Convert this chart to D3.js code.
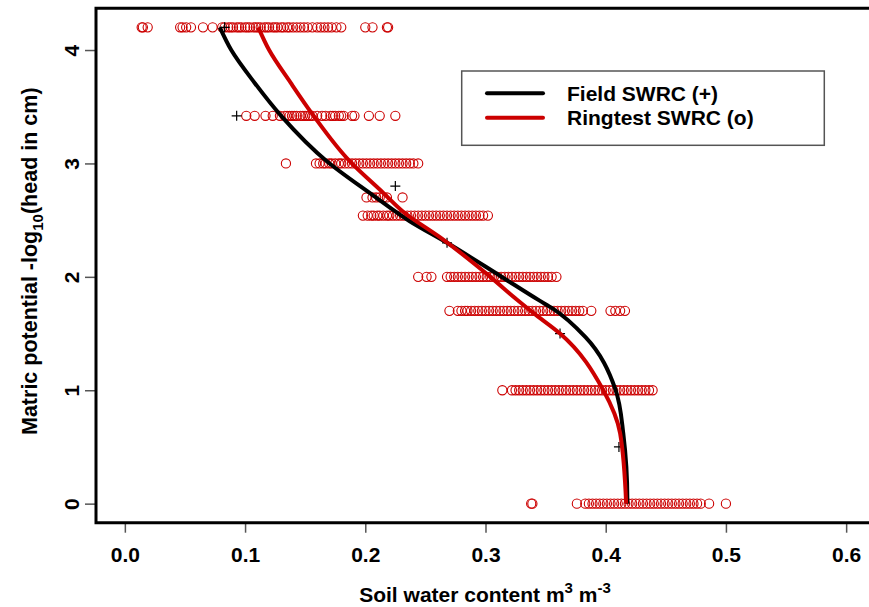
<!DOCTYPE html>
<html>
<head>
<meta charset="utf-8">
<script src="https://cdn.jsdelivr.net/npm/d3@7"></script>
<style>
  body { margin: 0; background: #fff; }
  text { font-family: "Liberation Sans", Arial, sans-serif; font-weight: bold; }
</style>
</head>
<body>
<div id="chart"></div>
<script>
// ringtest rows: pF level -> water contents
var ringRows = [
  { pf: 4.2, theta: [0.014, 0.015, 0.019, 0.046, 0.048, 0.051, 0.055, 0.065, 0.073, 0.081, 0.083, 0.086, 0.088, 0.090, 0.093, 0.095, 0.097, 0.100, 0.102, 0.104, 0.107, 0.109, 0.111, 0.113, 0.116, 0.118, 0.120, 0.123, 0.125, 0.127, 0.130, 0.132, 0.135, 0.137, 0.140, 0.143, 0.146, 0.149, 0.152, 0.156, 0.160, 0.163, 0.166, 0.169, 0.172, 0.176, 0.180, 0.200, 0.206, 0.218, 0.219] },
  { pf: 3.42, theta: [0.101, 0.108, 0.117, 0.123, 0.129, 0.133, 0.135, 0.137, 0.139, 0.141, 0.143, 0.146, 0.148, 0.150, 0.152, 0.154, 0.156, 0.160, 0.164, 0.167, 0.171, 0.173, 0.175, 0.178, 0.180, 0.182, 0.189, 0.191, 0.203, 0.212, 0.225] },
  { pf: 3.0, theta: [0.134, 0.159, 0.162, 0.165, 0.167, 0.170, 0.172, 0.175, 0.178, 0.180, 0.183, 0.186, 0.189, 0.192, 0.195, 0.198, 0.201, 0.204, 0.207, 0.210, 0.213, 0.216, 0.219, 0.222, 0.225, 0.228, 0.231, 0.234, 0.237, 0.240, 0.244] },
  { pf: 2.7, theta: [0.201, 0.206, 0.209, 0.212, 0.215, 0.218, 0.231] },
  { pf: 2.54, theta: [0.198, 0.202, 0.205, 0.207, 0.210, 0.212, 0.215, 0.218, 0.220, 0.223, 0.226, 0.229, 0.232, 0.235, 0.238, 0.241, 0.244, 0.247, 0.250, 0.253, 0.256, 0.259, 0.262, 0.265, 0.268, 0.271, 0.274, 0.277, 0.280, 0.283, 0.286, 0.289, 0.292, 0.295, 0.298, 0.302] },
  { pf: 2.0, theta: [0.244, 0.251, 0.255, 0.268, 0.271, 0.274, 0.277, 0.280, 0.283, 0.286, 0.289, 0.292, 0.295, 0.298, 0.301, 0.304, 0.307, 0.310, 0.313, 0.316, 0.319, 0.322, 0.325, 0.328, 0.331, 0.334, 0.337, 0.340, 0.343, 0.346, 0.349, 0.352, 0.355, 0.359] },
  { pf: 1.7, theta: [0.270, 0.277, 0.280, 0.283, 0.285, 0.288, 0.291, 0.294, 0.297, 0.300, 0.303, 0.306, 0.309, 0.312, 0.315, 0.318, 0.321, 0.324, 0.327, 0.330, 0.333, 0.336, 0.339, 0.342, 0.345, 0.348, 0.351, 0.354, 0.357, 0.360, 0.363, 0.366, 0.369, 0.372, 0.375, 0.378, 0.381, 0.388, 0.404, 0.408, 0.412, 0.416] },
  { pf: 1.0, theta: [0.314, 0.322, 0.325, 0.328, 0.331, 0.334, 0.337, 0.340, 0.343, 0.346, 0.349, 0.352, 0.355, 0.358, 0.361, 0.364, 0.367, 0.370, 0.373, 0.376, 0.379, 0.382, 0.385, 0.388, 0.391, 0.394, 0.397, 0.400, 0.403, 0.406, 0.409, 0.412, 0.415, 0.418, 0.421, 0.424, 0.427, 0.430, 0.433, 0.436, 0.439] },
  { pf: 0.0, theta: [0.338, 0.339, 0.376, 0.383, 0.386, 0.389, 0.392, 0.395, 0.398, 0.401, 0.404, 0.407, 0.410, 0.413, 0.416, 0.419, 0.422, 0.425, 0.428, 0.431, 0.434, 0.437, 0.440, 0.443, 0.446, 0.449, 0.452, 0.455, 0.458, 0.461, 0.464, 0.467, 0.470, 0.473, 0.476, 0.479, 0.486, 0.500] }
];

// field measurements (+)
var fieldTheta = [0.083, 0.093, 0.225, 0.268, 0.362, 0.411];
var fieldPf    = [4.2,   3.42,  2.8,   2.3,   1.5,   0.5];

// fitted curves
var fieldCurvePf    = [4.2,   4.0,   3.71,  3.42,  3.02,  2.73,  2.49,  2.30,  2.01,  1.79,  1.72,  1.47,  1.01,  0.62,   0.03,  0.0];
var fieldCurveTheta = [0.079, 0.0885, 0.108, 0.130, 0.168, 0.205, 0.237, 0.268, 0.312, 0.345, 0.356, 0.383, 0.408, 0.4146, 0.418, 0.418];
var ringCurvePf     = [4.2,   4.0,   3.71,  3.42,  3.02,  2.74,  2.57,  2.35,  2.00,  1.80,  1.68,  1.50,  1.00,  0.62,  0.0];
var ringCurveTheta  = [0.111, 0.120, 0.138, 0.157, 0.187, 0.215, 0.232, 0.262, 0.304, 0.326, 0.340, 0.362, 0.398, 0.412, 0.417];

var xTicks = [0.0, 0.1, 0.2, 0.3, 0.4, 0.5, 0.6];
var yTicks = [0, 1, 2, 3, 4];
var legendLabels = ["Field SWRC (+)", "Ringtest SWRC (o)"];

var W = 869, H = 607;
var red = "#cc0000";
var fs = 21;

var svg = d3.select("#chart").append("svg")
  .attr("width", W).attr("height", H);

var x = d3.scaleLinear().domain([-0.024, 0.624]).range([96, 875]);
var y = d3.scaleLinear().domain([-0.168, 4.368]).range([522.7, 8.3]);

// ringtest circles
var pts = [];
ringRows.forEach(function(r) {
  r.theta.forEach(function(t) { pts.push([t, r.pf]); });
});
svg.append("g").selectAll("circle")
  .data(pts)
  .enter().append("circle")
  .attr("cx", function(d) { return x(d[0]); })
  .attr("cy", function(d) { return y(d[1]); })
  .attr("r", 4.6)
  .attr("fill", "none")
  .attr("stroke", red)
  .attr("stroke-width", 1.1);

// field crosses
svg.append("g").selectAll("path")
  .data(d3.range(fieldTheta.length))
  .enter().append("path")
  .attr("transform", function(i) { return "translate(" + x(fieldTheta[i]) + "," + y(fieldPf[i]) + ")"; })
  .attr("d", "M-5,0H5M0,-5V5")
  .attr("stroke", "#000")
  .attr("stroke-width", 1.2);

var line = d3.line()
  .x(function(d) { return x(d[0]); })
  .y(function(d) { return y(d[1]); })
  .curve(d3.curveMonotoneY);

svg.append("path")
  .datum(d3.zip(fieldCurveTheta, fieldCurvePf))
  .attr("d", line)
  .attr("fill", "none").attr("stroke", "#000").attr("stroke-width", 4);

svg.append("path")
  .datum(d3.zip(ringCurveTheta, ringCurvePf))
  .attr("d", line)
  .attr("fill", "none").attr("stroke", red).attr("stroke-width", 4);

// axes
var xAxis = svg.append("g")
  .attr("transform", "translate(0,522.7)")
  .call(d3.axisBottom(x).tickValues(xTicks).tickFormat(d3.format(".1f")).tickSize(10).tickPadding(14));
var yAxis = svg.append("g")
  .attr("transform", "translate(96,0)")
  .call(d3.axisLeft(y).tickValues(yTicks).tickFormat(d3.format("d")).tickSize(11));

[xAxis, yAxis].forEach(function(a) {
  a.select(".domain").remove();
  a.selectAll(".tick line").attr("stroke", "#555").attr("stroke-width", 1.5);
  a.selectAll(".tick text").attr("font-size", fs).attr("fill", "#000");
});
yAxis.selectAll(".tick text")
  .attr("x", null).attr("dy", null)
  .attr("text-anchor", "middle")
  .attr("transform", "translate(-17,0) rotate(-90)");

// plot box (runs off the right edge)
svg.append("path")
  .attr("d", "M880,8.3H96V522.7H880")
  .attr("fill", "none").attr("stroke", "#000").attr("stroke-width", 3);

// legend
var lg = svg.append("g");
lg.append("rect")
  .attr("x", 461.7).attr("y", 71).attr("width", 362.6).attr("height", 74.3)
  .attr("fill", "#fff").attr("stroke", "#555").attr("stroke-width", 1.5);
[["#000", 93.3], [red, 117.7]].forEach(function(s, i) {
  lg.append("line")
    .attr("x1", 487).attr("x2", 543).attr("y1", s[1]).attr("y2", s[1])
    .attr("stroke", s[0]).attr("stroke-width", 4).attr("stroke-linecap", "round");
  lg.append("text")
    .attr("x", 567).attr("y", s[1] + 7.5)
    .attr("font-size", fs)
    .text(legendLabels[i]);
});

// axis titles
var xt = svg.append("text")
  .attr("x", 485).attr("y", 602)
  .attr("text-anchor", "middle")
  .attr("font-size", fs);
xt.append("tspan").text("Soil water content m");
xt.append("tspan").attr("dy", -9).attr("font-size", 15).text("3");
xt.append("tspan").attr("dy", 9).text(" m");
xt.append("tspan").attr("dy", -9).attr("font-size", 15).text("-3");

var yt = svg.append("text")
  .attr("transform", "translate(37,435) rotate(-90)")
  .attr("text-anchor", "start")
  .attr("font-size", 21.5);
yt.append("tspan").text("Matric potential -log");
yt.append("tspan").attr("dy", 6).attr("font-size", 15).text("10");
yt.append("tspan").attr("dy", -6).text("(head in cm)");
</script>
</body>
</html>
